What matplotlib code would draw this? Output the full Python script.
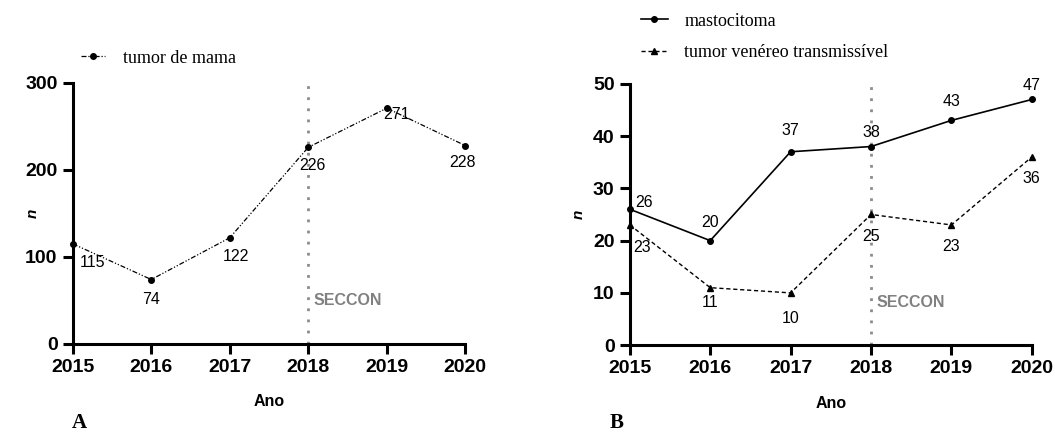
import matplotlib
matplotlib.use('Agg')
import matplotlib.pyplot as plt

# dados
anos = [2015, 2016, 2017, 2018, 2019, 2020]
tumor_mama = [115, 74, 122, 226, 271, 228]
mastocitoma = [26, 20, 37, 38, 43, 47]
tvt = [23, 11, 10, 25, 23, 36]
ano_seccon = 2018

# deslocamento dos rótulos (pixels)
off_mama = [(20, -19), (0, -20), (6, -19), (4, -18), (10, -6), (-3, -17)]
off_masto = [(14, 7), (0, 18), (0, 21), (0, 14), (0, 19), (0, 14)]
off_tvt = [(12, -23), (0, -15), (0, -26), (0, -22), (0, -22), (0, -22)]

plt.rcParams['font.family'] = ['Liberation Sans', 'DejaVu Sans']

fig = plt.figure(figsize=(10.55, 4.32), dpi=100)
axA = fig.add_axes([0.069, 0.204, 0.372, 0.604])
axB = fig.add_axes([0.597, 0.201, 0.381, 0.605])


def estilo(ax, ymax, ystep, seccon_y, nx):
    ax.set_xlim(anos[0], anos[-1])
    ax.set_ylim(0, ymax)
    ax.set_xticks(anos)
    ax.set_yticks(range(0, ymax + 1, ystep))
    for s in ['top', 'right']:
        ax.spines[s].set_visible(False)
    for s in ['left', 'bottom']:
        ax.spines[s].set_linewidth(2.2)
    ax.tick_params(width=2.2, length=7, pad=4, labelsize=14)
    for lb in ax.get_xticklabels() + ax.get_yticklabels():
        lb.set_fontweight('bold')
    ax.set_xlabel('Ano', fontsize=11.5, fontweight='bold', labelpad=13)
    ax.set_ylabel('n', fontsize=11, fontweight='bold', style='italic')
    ax.yaxis.set_label_coords(nx, 0.5)
    ax.axvline(ano_seccon, color='#8c8c8c', ls=(0, (1, 3)), lw=2, zorder=1)
    ax.text(ano_seccon + 0.07, seccon_y, 'SECCON', color='#808080',
            fontsize=11.5, fontweight='bold', va='center')


def rotulos(ax, ys, offs):
    for x, y, (dx, dy) in zip(anos, ys, offs):
        ax.annotate(str(y), (x, y), xytext=(dx * 0.72, dy * 0.72),
                    textcoords='offset points', ha='center', va='center',
                    fontsize=11.5, annotation_clip=False)


# painel A
estilo(axA, 300, 100, 50, -0.085)
axA.plot(anos, tumor_mama, color='black', lw=0.9, ls=(0, (4, 1.5, 1, 1.5, 1, 1.5)),
         marker='o', ms=4, clip_on=False, label='tumor de mama', zorder=3)
rotulos(axA, tumor_mama, off_mama)
axA.legend(loc='center left', bbox_to_anchor=(-0.02, 1.095), frameon=False,
           prop={'family': 'Liberation Serif', 'size': 13},
           handlelength=1.3, handletextpad=1.0)

# painel B
estilo(axB, 50, 10, 8.2, -0.11)
axB.plot(anos, mastocitoma, color='black', lw=1.2, marker='o', ms=4,
         clip_on=False, label='mastocitoma', zorder=3)
axB.plot(anos, tvt, color='black', lw=1.0, ls=(0, (3, 2)), marker='^', ms=4,
         clip_on=False, label='tumor venéreo transmissível', zorder=3)
rotulos(axB, mastocitoma, off_masto)
rotulos(axB, tvt, off_tvt)
axB.legend(loc='center left', bbox_to_anchor=(-0.013, 1.18), frameon=False,
           prop={'family': 'Liberation Serif', 'size': 13},
           handlelength=1.5, handletextpad=0.9, labelspacing=0.8)

fig.text(0.068, 0.01, 'A', fontsize=15, fontweight='bold', family='Liberation Serif')
fig.text(0.578, 0.01, 'B', fontsize=15, fontweight='bold', family='Liberation Serif')

fig.savefig('out.png', dpi=100)
